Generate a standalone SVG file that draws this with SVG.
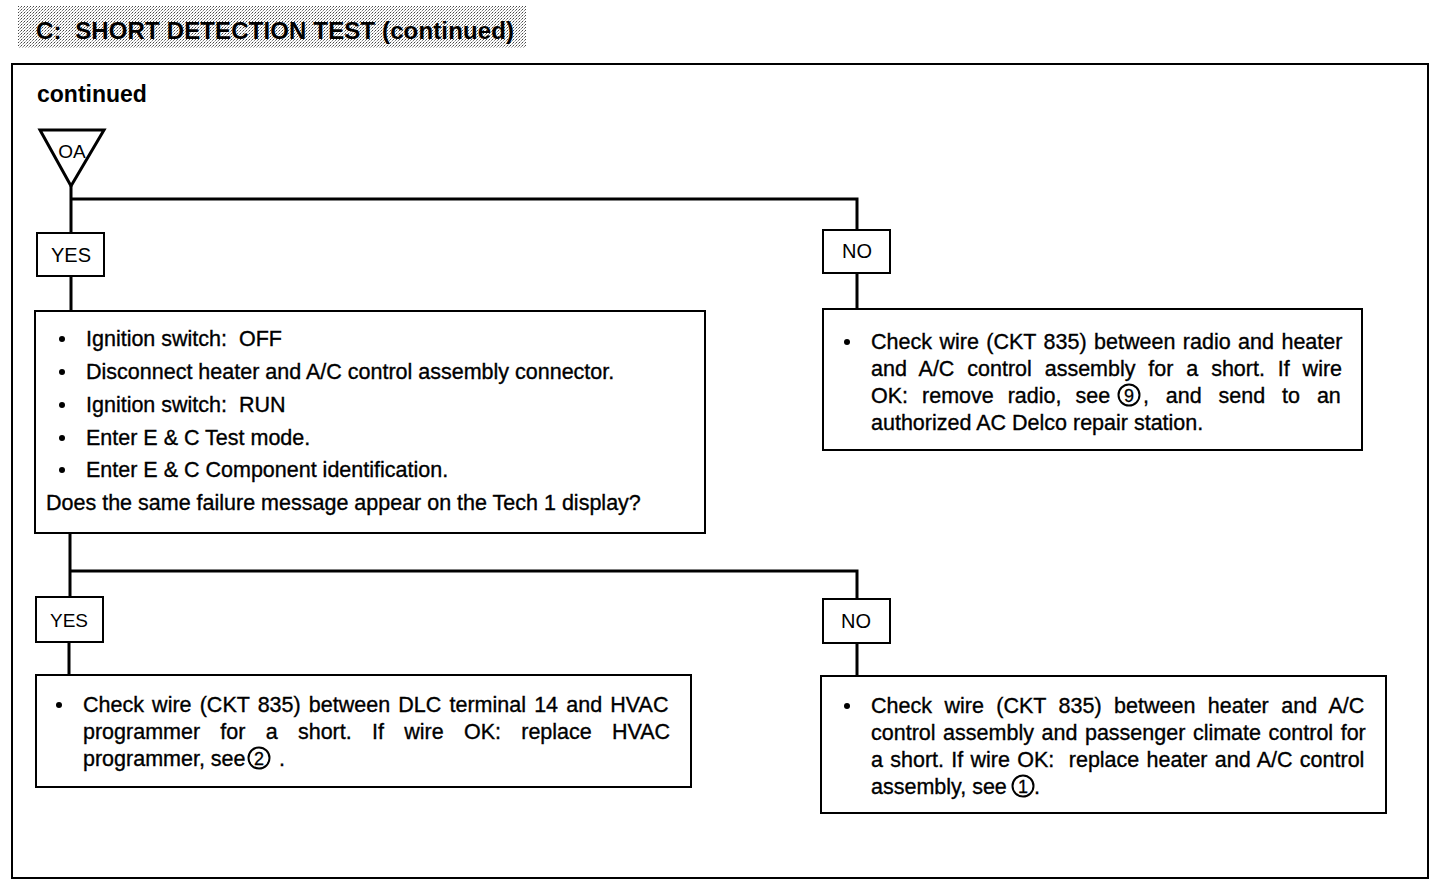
<svg xmlns="http://www.w3.org/2000/svg" width="1440" height="886" viewBox="0 0 1440 886">
<defs>
<pattern id="stip" width="3" height="3" patternUnits="userSpaceOnUse">
<rect width="3" height="3" fill="#ffffff"/>
<rect x="0" y="0" width="1" height="1" fill="#444"/>
<rect x="2" y="1" width="1" height="1" fill="#888"/>
<rect x="1" y="2" width="1" height="1" fill="#bbb"/>
</pattern>
<style>
text{font-family:"Liberation Sans",Arial,sans-serif;fill:#000;white-space:pre}
.t{font-size:21.5px;stroke:#000;stroke-width:0.35}
.lbl{font-size:20px;text-anchor:middle}
.box{fill:#fff;stroke:#000;stroke-width:2}
.con{fill:none;stroke:#000;stroke-width:3}
.cir{fill:none;stroke:#000;stroke-width:2}
.dig{font-size:18px;text-anchor:middle;stroke:#000;stroke-width:0.3}
</style>
</defs>
<rect width="1440" height="886" fill="#fff"/>
<g id="title">
<rect x="18" y="6" width="508" height="42" fill="url(#stip)"/>
<text x="36" y="39" textLength="478" lengthAdjust="spacing" style="font-size:24px;font-weight:bold">C:  SHORT DETECTION TEST (continued)</text>
</g>
<rect id="frame" x="12" y="64" width="1416" height="814" fill="none" stroke="#000" stroke-width="2"/>
<text id="cont" x="37" y="102" style="font-size:23px;font-weight:bold">continued</text>
<g id="connectors">
<path class="con" d="M71,186 V233 M71,199 H857 V230 M71,276 V311 M857,273 V309"/>
<path class="con" d="M70,533 V597 M70,571 H857 V599 M69,642 V675 M857,643 V676"/>
</g>
<g id="oa">
<polygon points="40,130 104,130 71,186" fill="#fff" stroke="#000" stroke-width="3"/>
<text x="72" y="158" style="font-size:19px;text-anchor:middle">OA</text>
</g>
<g id="yes1"><rect class="box" x="37" y="233" width="67" height="43"/><text class="lbl" x="71" y="262">YES</text></g>
<g id="no1"><rect class="box" x="823" y="230" width="67" height="43"/><text class="lbl" x="857" y="258">NO</text></g>
<g id="main">
<rect class="box" x="35" y="311" width="670" height="222"/>
<circle cx="62" cy="339" r="3"/><text class="t" x="86" y="346">Ignition switch:  OFF</text>
<circle cx="62" cy="372" r="3"/><text class="t" x="86" y="379">Disconnect heater and A/C control assembly connector.</text>
<circle cx="62" cy="405" r="3"/><text class="t" x="86" y="412">Ignition switch:  RUN</text>
<circle cx="62" cy="438" r="3"/><text class="t" x="86" y="445">Enter E &amp; C Test mode.</text>
<circle cx="62" cy="470" r="3"/><text class="t" x="86" y="477">Enter E &amp; C Component identification.</text>
<text class="t" x="46" y="510">Does the same failure message appear on the Tech 1 display?</text>
</g>
<g id="radio">
<rect class="box" x="823" y="309" width="539" height="141"/>
<circle cx="847" cy="342" r="3"/>
<text class="t" x="871" y="349" word-spacing="1.5">Check wire (CKT 835) between radio and heater</text>
<text class="t" x="871" y="376" word-spacing="6.9">and A/C control assembly for a short. If wire</text>
<text class="t" x="871" y="403" word-spacing="8">OK: remove radio, see</text>
<circle class="cir" cx="1129" cy="395" r="10.5"/><text class="dig" x="1129" y="401.5">9</text>
<text class="t" x="1143" y="403" word-spacing="10.9">, and send to an</text>
<text class="t" x="871" y="430">authorized AC Delco repair station.</text>
</g>
<g id="yes2"><rect class="box" x="36" y="597" width="67" height="45"/><text class="lbl" x="69" y="627" style="font-size:19px">YES</text></g>
<g id="no2"><rect class="box" x="823" y="599" width="67" height="44"/><text class="lbl" x="856" y="628">NO</text></g>
<g id="dlc">
<rect class="box" x="36" y="675" width="655" height="112"/>
<circle cx="59" cy="705" r="3"/>
<text class="t" x="83" y="712" word-spacing="2.2">Check wire (CKT 835) between DLC terminal 14 and HVAC</text>
<text class="t" x="83" y="739" word-spacing="14.3">programmer for a short. If wire OK: replace HVAC</text>
<text class="t" x="83" y="766">programmer, see</text>
<circle class="cir" cx="259" cy="758" r="10.5"/><text class="dig" x="259" y="764.5">2</text>
<text class="t" x="273" y="766"> .</text>
</g>
<g id="heater">
<rect class="box" x="821" y="676" width="565" height="137"/>
<circle cx="847" cy="706" r="3"/>
<text class="t" x="871" y="713" word-spacing="6.5">Check wire (CKT 835) between heater and A/C</text>
<text class="t" x="871" y="740" word-spacing="1.6">control assembly and passenger climate control for</text>
<text class="t" x="871" y="767" word-spacing="1.3">a short. If wire OK:  replace heater and A/C control</text>
<text class="t" x="871" y="794">assembly, see</text>
<circle class="cir" cx="1023" cy="786" r="10.5"/><text class="dig" x="1023" y="792.5">1</text>
<text class="t" x="1034" y="794">.</text>
</g>
</svg>
